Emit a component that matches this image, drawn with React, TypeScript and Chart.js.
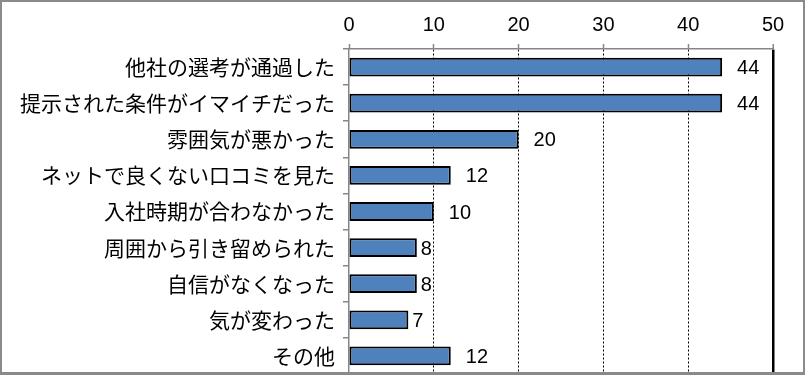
import React, { useEffect, useRef } from "react";
import { Chart, registerables } from "chart.js";

Chart.register(...registerables);

const categories = [
  "他社の選考が通過した",
  "提示された条件がイマイチだった",
  "雰囲気が悪かった",
  "ネットで良くない口コミを見た",
  "入社時期が合わなかった",
  "周囲から引き留められた",
  "自信がなくなった",
  "気が変わった",
  "その他",
];
const values = [44, 44, 20, 12, 10, 8, 8, 7, 12];
const axisMin = 0;
const axisMax = 50;
const axisStep = 10;

const GRAY = "#868686";
const NUM_FONT = '"Liberation Sans", Arial, sans-serif';

const dataLabelPlugin = {
  id: "dataLabels",
  afterDatasetsDraw(chart: any) {
    const ctx = chart.ctx;
    const meta = chart.getDatasetMeta(0);
    ctx.save();
    ctx.font = "20px " + NUM_FONT;
    ctx.fillStyle = "#000";
    ctx.textAlign = "left";
    ctx.textBaseline = "middle";
    meta.data.forEach((bar: any, i: number) => {
      const txt = String(values[i]);
      const gap = txt.length > 1 ? 15 : 4;
      ctx.fillText(txt, bar.x + gap, bar.y + 1.5);
    });
    ctx.restore();
  },
};

export default function App() {
  const ref = useRef<HTMLCanvasElement | null>(null);

  useEffect(() => {
    if (!ref.current) return;
    const chart = new Chart(ref.current, {
      type: "bar",
      data: {
        labels: categories,
        datasets: [
          {
            data: values,
            backgroundColor: "#4F81BD",
            borderColor: "#000000",
            borderWidth: 2,
            borderSkipped: false,
            categoryPercentage: 1,
            barPercentage: 0.52,
          },
        ],
      },
      options: {
        indexAxis: "y",
        responsive: false,
        animation: false,
        layout: { padding: { top: 0, left: 0, right: 32, bottom: 1 } },
        plugins: {
          legend: { display: false },
          tooltip: { enabled: false },
        },
        scales: {
          x: {
            position: "top",
            min: axisMin,
            max: axisMax,
            afterFit: (s: any) => {
              s.height = 49;
              s.paddingLeft = 0;
              s.paddingRight = 0;
            },
            ticks: {
              stepSize: axisStep,
              color: "#000",
              padding: 7,
              font: { family: NUM_FONT, size: 20 },
            },
            grid: {
              color: (c: any) =>
                c.tick && c.tick.value === axisMin ? "rgba(0,0,0,0)" : "#000",
              lineWidth: (c: any) => (c.tick && c.tick.value === axisMax ? 2.5 : 1),
              tickColor: GRAY,
              tickLength: 5,
              tickWidth: 1.5,
            },
            border: {
              color: GRAY,
              width: 1.5,
              dash: (c: any) => (c.tick && c.tick.value === axisMax ? [] : [2, 2]),
            },
          },
          y: {
            afterFit: (s: any) => {
              s.width = 349;
              s.paddingTop = 0;
              s.paddingBottom = 0;
            },
            ticks: {
              color: "#000",
              padding: 8,
              font: { family: '"Noto Sans CJK JP", sans-serif', size: 21 },
            },
            grid: {
              drawOnChartArea: false,
              color: GRAY,
              tickLength: 6,
              lineWidth: 1.5,
            },
            border: { color: GRAY, width: 1.5 },
          },
        },
      },
      plugins: [dataLabelPlugin],
    });
    return () => chart.destroy();
  }, []);

  return (
    <div style={{ position: "absolute", left: 0, top: 0, width: 805, height: 375, background: "#fff" }}>
      <canvas ref={ref} width={805} height={375} style={{ position: "absolute", left: 0, top: 0 }} />
      <div
        style={{
          position: "absolute",
          left: 0,
          top: 0,
          width: 805,
          height: 375,
          boxSizing: "border-box",
          borderStyle: "solid",
          borderColor: "#8a8a8a",
          borderWidth: "2px 2px 3px 2px",
          pointerEvents: "none",
        }}
      />
    </div>
  );
}
